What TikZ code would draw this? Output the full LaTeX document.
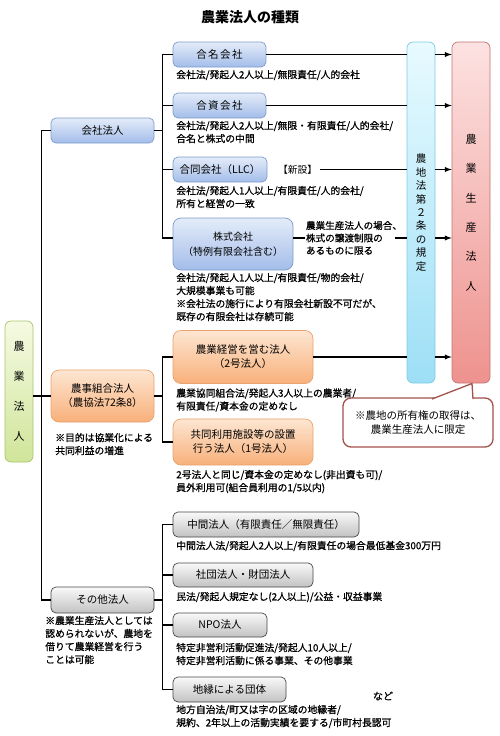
\documentclass[tikz,border=0pt]{standalone}
\usepackage{fontspec}
\setmainfont{Noto Sans CJK JP}
\newfontfamily\descfont{Noto Sans CJK JP}[FakeBold=0.8]
\usepackage{xcolor}
\usetikzlibrary{positioning}

\definecolor{bluetop}{HTML}{E4ECF9}
\definecolor{bluebot}{HTML}{A3BDE9}
\definecolor{blueedge}{HTML}{7E9BCB}
\definecolor{orangetop}{HTML}{FDE6D2}
\definecolor{orangebot}{HTML}{F8B07A}
\definecolor{orangeedge}{HTML}{E9A26E}
\definecolor{graytop}{HTML}{F9F9F9}
\definecolor{graybot}{HTML}{C2C2C2}
\definecolor{grayedge}{HTML}{474747}
\definecolor{greentop}{HTML}{F5FAE2}
\definecolor{greenbot}{HTML}{D0E59A}
\definecolor{greenedge}{HTML}{A9C46C}
\definecolor{cyantop}{HTML}{E8FAFF}
\definecolor{cyanbot}{HTML}{9DDFF6}
\definecolor{cyanedge}{HTML}{7ECBE2}
\definecolor{redtop}{HTML}{FCE2E1}
\definecolor{redbot}{HTML}{EE928E}
\definecolor{rededge}{HTML}{C27572}
\definecolor{noteedge}{HTML}{A2514B}

\tikzset{
  box/.style={rounded corners=5pt, minimum height=25pt, inner sep=1pt, align=center,
    line width=0.7pt, font=\fontsize{10.5}{14}\selectfont},
  kaishabox/.style={box, draw=blueedge, top color=bluetop, bottom color=bluebot},
  nojibox/.style={box, rounded corners=8pt, draw=orangeedge, top color=orangetop, bottom color=orangebot},
  sonotabox/.style={box, draw=grayedge, top color=graytop, bottom color=graybot},
  tatebox/.style={rounded corners=6pt, inner sep=0pt, align=center, line width=0.7pt},
  desc/.style={inner sep=0pt, align=left, font=\descfont\fontsize{9.8}{13}\selectfont},
}

\begin{document}
\begin{tikzpicture}[x=1pt, y=-1pt, >=latex, line width=1.3pt]
    \useasboundingbox (0,0) rectangle (500,736);
    \node[font=\bfseries\fontsize{14}{16}\selectfont] (title) at (250,17) {農業法人の種類};

    % 1. 左端と右端の縦長ボックス
    \node[tatebox, draw=greenedge, top color=greentop, bottom color=greenbot,
        minimum width=28pt, minimum height=141pt, font=\fontsize{11}{30}\selectfont]
        (root) at (19,391.5) {農\\業\\法\\人};
    \node[tatebox, draw=cyanedge, top color=cyantop, bottom color=cyanbot,
        minimum width=28pt, minimum height=341pt, font=\fontsize{10.5}{13.4}\selectfont]
        (cyan) at (421,212.5) {農\\地\\法\\第\\２\\条\\の\\規\\定};
    \node[tatebox, draw=rededge, top color=redtop, bottom color=redbot,
        minimum width=38pt, minimum height=341pt, font=\fontsize{11}{29.4}\selectfont]
        (red) at (471,212.5) {農\\業\\生\\産\\法\\人};

    % 2. 会社法人
    \node[kaishabox, minimum width=103pt] (kaisha) at (102.5,130.5) {会社法人};
    \node[kaishabox, minimum width=93pt] (gomei) at (219.5,54.5) {合\kern1.5pt 名\kern1.5pt 会\kern1.5pt 社};
    \node[kaishabox, minimum width=93pt] (goshi) at (219.5,105.5) {合\kern1.5pt 資\kern1.5pt 会\kern1.5pt 社};
    \node[kaishabox, minimum width=94pt] (llc) at (220,169.5) {合同会社（LLC）};
    \node[kaishabox, rounded corners=8pt, minimum width=120pt, minimum height=52pt,
        font=\fontsize{10}{15}\selectfont] (kabu) at (233,244) {株式会社\\（特例有限会社含む）};
    \node[desc, below right=2pt and 3pt of gomei.south west] (gomeiD) {会社法/発起人2人以上/無限責任/人的会社};
    \node[desc, below right=2pt and 3pt of goshi.south west] (goshiD) {会社法/発起人2人以上/無限・有限責任/人的会社/\\合名と株式の中間};
    \node[desc, below right=3pt and 3pt of llc.south west] (llcD) {会社法/発起人1人以上/有限責任/人的会社/\\所有と経営の一致};
    \node[desc, below right=2pt and 3pt of kabu.south west] (kabuD) {会社法/発起人1人以上/有限責任/物的会社/\\大規模事業も可能\\※会社法の施行により有限会社新設不可だが、\\既存の有限会社は存続可能};
    \node[inner sep=2pt, font=\fontsize{9.8}{12}\selectfont, right=8pt of llc.east] (shinsetsu) {【新設】};
    \node[desc, font=\descfont\fontsize{9.6}{12.5}\selectfont, right=12pt of kabu.east, yshift=6pt] (kabucond) {農業生産法人の場合、\\株式の譲渡制限の\\あるものに限る};

    % 3. 農事組合法人
    \node[nojibox, minimum width=103pt, minimum height=52pt] (noji) at (102.5,396) {農事組合法人\\（農協法72条8）};
    \node[nojibox, minimum width=140pt, minimum height=53pt] (keiei) at (243,357) {農業経営を営む法人\\（2号法人）};
    \node[nojibox, minimum width=140pt, minimum height=46pt] (kyodo) at (243,442) {共同利用施設等の設置\\行う法人（1号法人）};
    \node[desc, below right=10pt and 4pt of noji.south west] (nojiD) {※目的は協業化による\\共同利益の増進};
    \node[desc, below right=4pt and 3pt of keiei.south west] (keieiD) {農業協同組合法/発起人3人以上の農業者/\\有限責任/資本金の定めなし};
    \node[desc, below right=4pt and 3pt of kyodo.south west] (kyodoD) {2号法人と同じ/資本金の定めなし(非出資も可)/\\員外利用可(組合員利用の1/5以内)};

    % 4. その他法人
    \node[sonotabox, minimum width=103pt, minimum height=26pt] (sonota) at (102.5,600) {その他法人};
    \node[sonotabox, minimum width=186pt] (chukan) at (266,524.5) {中間法人（有限責任／無限責任）};
    \node[sonotabox, minimum width=140pt, minimum height=24pt] (shadan) at (243,575) {社団法人・財団法人};
    \node[sonotabox, minimum width=94pt, minimum height=24pt] (npo) at (220,625) {NPO法人};
    \node[sonotabox, minimum width=113pt] (chien) at (229.5,689.5) {地縁による団体};
    \node[desc, below right=2pt and -6pt of sonota.south west] (sonotaD) {※農業生産法人としては\\認められないが、農地を\\借りて農業経営を行う\\ことは可能};
    \node[desc, below right=3pt and 3pt of chukan.south west] (chukanD) {中間法人法/発起人2人以上/有限責任の場合最低基金300万円};
    \node[desc, below right=4pt and 3pt of shadan.south west] (shadanD) {民法/発起人規定なし(2人以上)/公益・収益事業};
    \node[desc, below right=5pt and 3pt of npo.south west] (npoD) {特定非営利活動促進法/発起人10人以上/\\特定非営利活動に係る事業、その他事業};
    \node[desc, below right=2pt and 3pt of chien.south west] (chienD) {地方自治法/町又は字の区域の地縁者/\\規約、2年以上の活動実績を要する/市町村長認可};
    \node[font=\descfont\fontsize{10}{12}\selectfont] (nado) at (383,696) {など};

    % 5. 吹き出し
    \node[draw=noteedge, line width=1.3pt, fill=white, rounded corners=8pt, minimum width=150pt,
        minimum height=49pt, align=center, font=\fontsize{10.5}{13.5}\selectfont]
        (note) at (418,422.5) {※農地の所有権の取得は、\\農業生産法人に限定};
    \coordinate (tailA) at (432,399);
    \coordinate (tailB) at (473,399);
    \coordinate (tailtip) at (472,383.5);
    \fill[white] (tailA) -- (tailtip) -- (tailB) -- cycle;
    \draw[noteedge, line join=round] (tailA) -- (tailtip) -- (tailB);

    % 6. 系統線
    \draw (root.east |- noji.west) -- (noji.west);
    \draw (kaisha.west) -- ++(-9,0) |- (sonota.west);
    \draw (kaisha.east) -- ++(9,0);
    \draw (gomei.west) -- ++(-10,0) |- ([yshift=6pt]kabu.west);
    \draw (goshi.west) -- ++(-10,0);
    \draw (llc.west) -- ++(-10,0);
    \draw (noji.east) -- ++(9,0);
    \draw (keiei.west) -- ++(-10,0) |- (kyodo.west);
    \draw (sonota.east) -- ++(9,0);
    \draw (chukan.west) -- ++(-10,0) |- (chien.west);
    \draw (shadan.west) -- ++(-10,0);
    \draw (npo.west) -- ++(-10,0);

    % 7. 農業生産法人への線
    \draw (gomei.east) -- (gomei.east -| cyan.west);
    \draw (goshi.east) -- (goshi.east -| cyan.west);
    \draw (shinsetsu.east) -- (shinsetsu.east -| cyan.west);
    \draw ([yshift=6pt]kabu.east) -- (kabucond.west);
    \draw ([xshift=-8pt]kabucond.east) -- (kabucond.east -| cyan.west);
    \draw (keiei.east) -- (keiei.east -| cyan.west);
    \foreach \src in {gomei, goshi, shinsetsu, kabucond, keiei}
        \draw[->] (\src.east -| cyan.east) -- (\src.east -| red.west);
\end{tikzpicture}
\end{document}
